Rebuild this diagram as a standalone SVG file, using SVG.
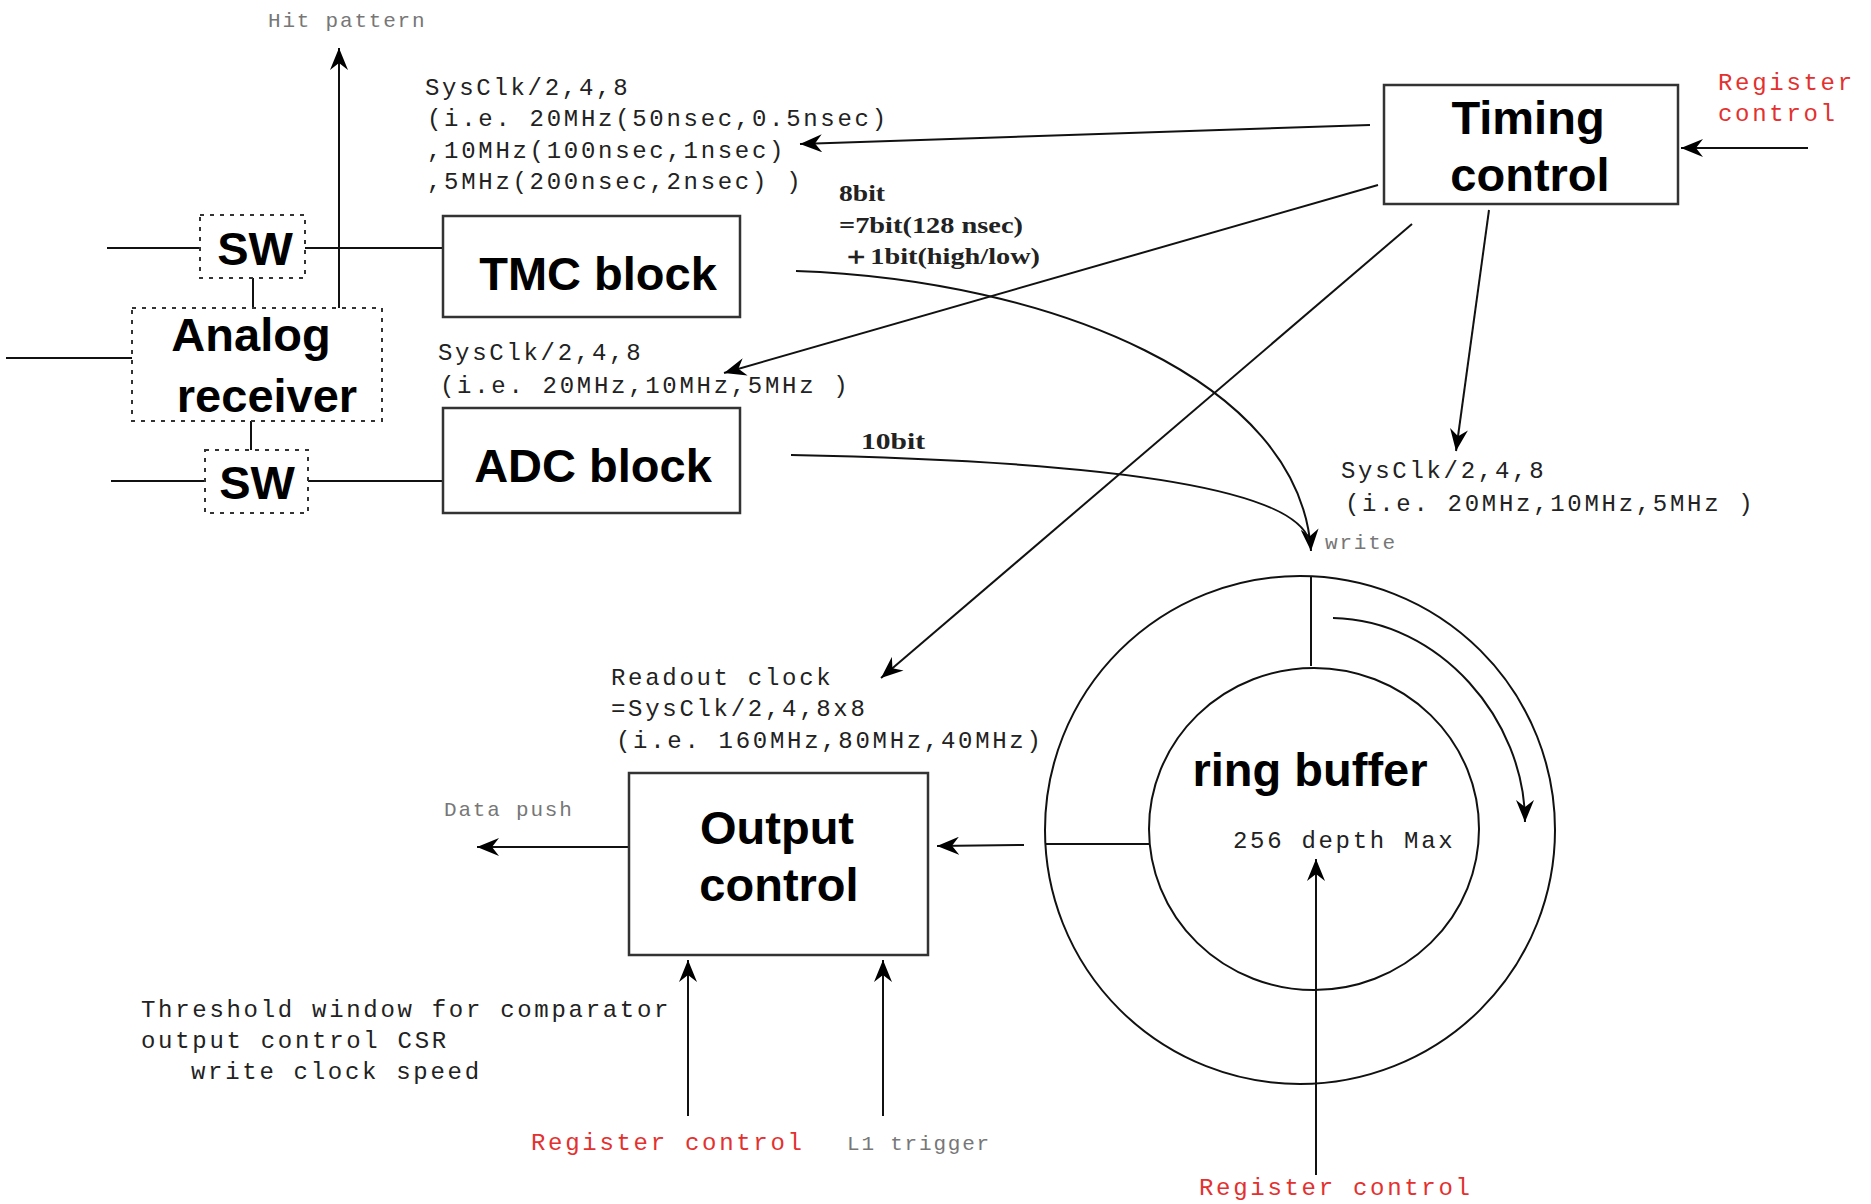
<svg xmlns="http://www.w3.org/2000/svg" width="1871" height="1204" viewBox="0 0 1871 1204">
<style>
.box{fill:none;stroke:#333;stroke-width:2.5}
.dash{fill:none;stroke:#333;stroke-width:2;stroke-dasharray:4 6}
.ln{fill:none;stroke:#111;stroke-width:2}
.b{font-family:"Liberation Sans",Arial,sans-serif;font-weight:bold;font-size:47px;fill:#000;text-anchor:middle}
.m{font-family:"Liberation Mono","Courier New",monospace;font-size:24px;letter-spacing:2.7px;fill:#222}
.red{fill:#e3312f}
.g{font-family:"Liberation Mono","Courier New",monospace;font-size:21px;letter-spacing:1.8px;fill:#777}
.s{font-family:"Liberation Serif","Times New Roman",serif;font-weight:bold;font-size:24px;fill:#222}
</style>
<defs>
<marker id="arr" markerWidth="24" markerHeight="18" refX="22" refY="9" orient="auto" markerUnits="userSpaceOnUse">
<path d="M0,0 L22,9 L0,18 L7,9 z" fill="#000"/>
</marker>
</defs>
<rect width="1871" height="1204" fill="#fff"/>

<g id="connectors">
<line class="ln" x1="339" y1="308" x2="339" y2="48" marker-end="url(#arr)"/>
<line class="ln" x1="107" y1="248" x2="200" y2="248"/>
<line class="ln" x1="305" y1="248" x2="443" y2="248"/>
<line class="ln" x1="253" y1="278" x2="253" y2="308"/>
<line class="ln" x1="6" y1="358" x2="132" y2="358"/>
<line class="ln" x1="251" y1="421" x2="251" y2="450"/>
<line class="ln" x1="111" y1="481" x2="205" y2="481"/>
<line class="ln" x1="308" y1="481" x2="443" y2="481"/>
<line class="ln" x1="1370" y1="125" x2="800" y2="144" marker-end="url(#arr)"/>
<line class="ln" x1="1378" y1="185" x2="724" y2="373" marker-end="url(#arr)"/>
<line class="ln" x1="1412" y1="224" x2="881" y2="678" marker-end="url(#arr)"/>
<line class="ln" x1="1489" y1="210" x2="1456" y2="451" marker-end="url(#arr)"/>
<line class="ln" x1="1808" y1="148" x2="1681" y2="148" marker-end="url(#arr)"/>
<path class="ln" d="M796 271 C1050 280 1300 380 1311 551" marker-end="url(#arr)"/>
<path class="ln" d="M791 455 C1050 460 1290 480 1309 540"/>
<line class="ln" x1="1311" y1="576" x2="1311" y2="666"/>
<path class="ln" d="M1333 618 C1440 620 1525 720 1525 822" marker-end="url(#arr)"/>
<line class="ln" x1="1045" y1="844" x2="1149" y2="844"/>
<line class="ln" x1="1024" y1="845" x2="937" y2="846" marker-end="url(#arr)"/>
<line class="ln" x1="1316" y1="1175" x2="1316" y2="859" marker-end="url(#arr)"/>
<line class="ln" x1="629" y1="847" x2="477" y2="847" marker-end="url(#arr)"/>
<line class="ln" x1="688" y1="1116" x2="688" y2="960" marker-end="url(#arr)"/>
<line class="ln" x1="883" y1="1116" x2="883" y2="960" marker-end="url(#arr)"/>
</g>

<g id="sw-top">
<rect class="dash" x="200" y="215" width="105" height="63"/>
<text class="b" x="255" y="265">SW</text>
</g>
<g id="analog-receiver">
<rect class="dash" x="132" y="308" width="250" height="113"/>
<text class="b" x="251" y="351">Analog</text>
<text class="b" x="267" y="412">receiver</text>
</g>
<g id="sw-bottom">
<rect class="dash" x="205" y="450" width="103" height="63"/>
<text class="b" x="257" y="499">SW</text>
</g>
<g id="tmc-block">
<rect class="box" x="443" y="216" width="297" height="101"/>
<text class="b" x="598" y="290">TMC block</text>
</g>
<g id="adc-block">
<rect class="box" x="443" y="408" width="297" height="105"/>
<text class="b" x="593" y="482">ADC block</text>
</g>
<g id="timing-control">
<rect class="box" x="1384" y="85" width="294" height="119"/>
<text class="b" x="1528" y="134">Timing</text>
<text class="b" x="1530" y="191">control</text>
</g>
<g id="output-control">
<rect class="box" x="629" y="773" width="299" height="182"/>
<text class="b" x="777" y="844">Output</text>
<text class="b" x="779" y="901">control</text>
</g>
<g id="ring-buffer">
<ellipse class="ln" cx="1300" cy="830" rx="255" ry="254"/>
<ellipse class="ln" cx="1314" cy="829" rx="165" ry="161"/>
<text class="b" x="1310" y="786">ring buffer</text>
<text class="m" x="1233" y="848">256 depth Max</text>
</g>

<g id="labels">
<text class="g" x="268" y="27">Hit pattern</text>
<text class="m" x="425" y="95">SysClk/2,4,8</text>
<text class="m" x="427" y="126">(i.e. 20MHz(50nsec,0.5nsec)</text>
<text class="m" x="427" y="158">,10MHz(100nsec,1nsec)</text>
<text class="m" x="427" y="189">,5MHz(200nsec,2nsec) )</text>
<text class="m red" x="1718" y="90">Register</text>
<text class="m red" x="1718" y="121">control</text>
<text class="s" x="839" y="201" textLength="46" lengthAdjust="spacingAndGlyphs">8bit</text>
<text class="s" x="839" y="233" textLength="184" lengthAdjust="spacingAndGlyphs">=7bit(128 nsec)</text>
<text class="s" x="842" y="264" textLength="198" lengthAdjust="spacingAndGlyphs">＋1bit(high/low)</text>
<text class="m" x="438" y="360">SysClk/2,4,8</text>
<text class="m" x="440" y="393">(i.e. 20MHz,10MHz,5MHz )</text>
<text class="s" x="861" y="449" textLength="64" lengthAdjust="spacingAndGlyphs">10bit</text>
<text class="m" x="1341" y="478">SysClk/2,4,8</text>
<text class="m" x="1345" y="511">(i.e. 20MHz,10MHz,5MHz )</text>
<text class="g" x="1325" y="549">write</text>
<text class="m" x="611" y="685">Readout clock</text>
<text class="m" x="611" y="716">=SysClk/2,4,8x8</text>
<text class="m" x="616" y="748">(i.e. 160MHz,80MHz,40MHz)</text>
<text class="g" x="444" y="816">Data push</text>
<text class="m" x="141" y="1017">Threshold window for comparator</text>
<text class="m" x="141" y="1048">output control CSR</text>
<text class="m" x="191" y="1079">write clock speed</text>
<text class="m red" x="531" y="1150">Register control</text>
<text class="g" x="847" y="1150">L1 trigger</text>
<text class="m red" x="1199" y="1195">Register control</text>
</g>
</svg>
